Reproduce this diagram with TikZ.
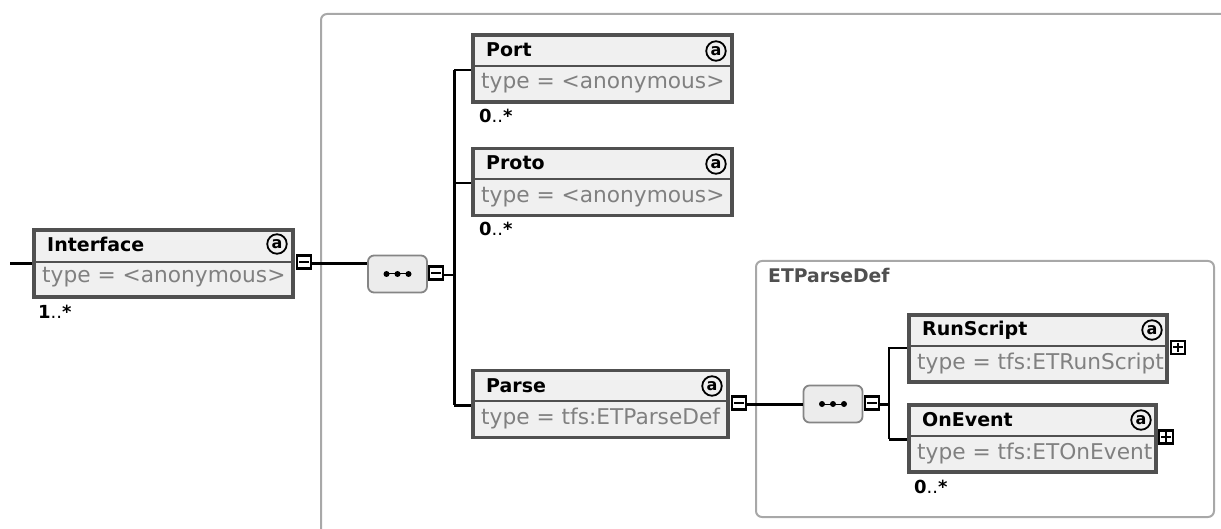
\documentclass[tikz,border=0pt]{standalone}
\usepackage{fontspec}
\setmainfont{DejaVu Sans}
\definecolor{boxline}{HTML}{505050}
\definecolor{boxfill}{HTML}{F0F0F0}
\definecolor{typegray}{HTML}{808080}
\definecolor{groupline}{HTML}{A8A8A8}
\definecolor{seqfill}{HTML}{ECECEC}
\definecolor{seqline}{HTML}{858585}

\begin{document}
\begin{tikzpicture}[x=1pt,y=-1pt,
  elem node/.style={rectangle,draw=boxline,fill=boxfill,line width=3.6pt,inner sep=0pt,minimum height=67pt},
  title node/.style={anchor=base west,inner sep=0pt,font=\fontsize{19}{21}\selectfont\bfseries},
  type node/.style={anchor=base west,inner sep=0pt,text=typegray,font=\fontsize{21.7}{24}\selectfont},
  icon node/.style={circle,draw=black,fill=boxfill,line width=1.8pt,minimum size=19.5pt,inner sep=0pt,font=\fontsize{16}{17}\selectfont\bfseries},
  count node/.style={anchor=base west,inner sep=0pt,font=\fontsize{18}{20}\selectfont},
  seq node/.style={rectangle,rounded corners=6pt,draw=seqline,fill=seqfill,line width=1.8pt,minimum width=59pt,minimum height=37pt,inner sep=0pt},
  fold node/.style={rectangle,draw=black,fill=white,line width=2.6pt,minimum width=14pt,minimum height=13pt,inner sep=0pt},
  divider/.style={draw=boxline,line width=1.8pt},
  group line/.style={draw=groupline,line width=2pt,rounded corners=6pt},
  thin link/.style={line width=2pt},
  wide link/.style={line width=3pt}]

  \useasboundingbox (0,0) rectangle (1221,529);

  \draw[group line] (321,529) -- (321,14) -- (1221,14);
  \node[rectangle,group line,minimum width=458pt,minimum height=256pt,inner sep=0pt] (groupbox) at (985,389) {};
  \node[anchor=base west,inner sep=0pt,text=boxline,font=\fontsize{18.8}{20}\selectfont\bfseries] (grouptitle) at (768,283) {ETParseDef};

  \node[elem node,minimum width=259pt] (interface) at (163.5,263.5) {};
  \node[elem node,minimum width=259pt] (port) at (602.5,68.5) {};
  \node[elem node,minimum width=259pt] (proto) at (602.5,182) {};
  \node[elem node,minimum width=255pt] (parse) at (600.5,404) {};
  \node[elem node,minimum width=258pt] (runscript) at (1038,348.5) {};
  \node[elem node,minimum width=247pt] (onevent) at (1032.5,438.5) {};

  \draw[divider] (interface.west |- 0,262) -- (interface.east |- 0,262);
  \draw[divider] (port.west |- 0,66) -- (port.east |- 0,66);
  \draw[divider] (proto.west |- 0,179) -- (proto.east |- 0,179);
  \draw[divider] (parse.west |- 0,401) -- (parse.east |- 0,401);
  \draw[divider] (runscript.west |- 0,346) -- (runscript.east |- 0,346);
  \draw[divider] (onevent.west |- 0,436) -- (onevent.east |- 0,436);

  \node[title node] (interfacename) at (47,252) {Interface};
  \node[title node] (portname) at (486,57) {Port};
  \node[title node] (protoname) at (486,170) {Proto};
  \node[title node] (parsename) at (486,392) {Parse};
  \node[title node] (runscriptname) at (922,336) {RunScript};
  \node[title node] (oneventname) at (922,426) {OnEvent};

  \node[type node] (interfacetype) at (42,283) {type = <anonymous>};
  \node[type node] (porttype) at (481,89) {type = <anonymous>};
  \node[type node] (prototype) at (481,203) {type = <anonymous>};
  \node[type node] (parsetype) at (481,424) {type = tfs:ETParseDef};
  \node[type node] (runscripttype) at (917,369) {type = tfs:ETRunScript};
  \node[type node] (oneventtype) at (917,459) {type = tfs:ETOnEvent};

  \node[icon node] (interfaceicon) at (277,244) {a};
  \node[icon node] (porticon) at (716,51) {a};
  \node[icon node] (protoicon) at (716,164) {a};
  \node[icon node] (parseicon) at (712,386) {a};
  \node[icon node] (runscripticon) at (1152,330) {a};
  \node[icon node] (oneventicon) at (1141,420) {a};

  \node[count node] (interfacecount) at (38,319) {\textbf{1}..\textbf{*}};
  \node[count node] (portcount) at (479,123) {\textbf{0}..\textbf{*}};
  \node[count node] (protocount) at (479,236) {\textbf{0}..\textbf{*}};
  \node[count node] (oneventcount) at (914,493) {\textbf{0}..\textbf{*}};

  \node[seq node] (seqa) at (397.5,274) {};
  \node[seq node] (seqb) at (833,404) {};
  \foreach \name in {seqa,seqb} {
    \draw[line width=1pt] ([xshift=-11pt]\name.center) -- ([xshift=11pt]\name.center);
    \foreach \dx in {-11,0,11}
      \fill ([xshift=\dx pt]\name.center) circle (3);
  }

  \node[fold node] (foldinterface) at (304,262) {};
  \node[fold node] (foldseqa) at (436,273) {};
  \node[fold node] (foldparse) at (739,403) {};
  \node[fold node] (foldseqb) at (872,403) {};
  \node[fold node] (foldrunscript) at (1178,347.5) {};
  \node[fold node] (foldonevent) at (1166,437) {};
  \foreach \name in {foldinterface,foldseqa,foldparse,foldseqb,foldrunscript,foldonevent}
    \draw[line width=2pt] ([xshift=3.5pt]\name.west) -- ([xshift=-3.5pt]\name.east);
  \foreach \name in {foldrunscript,foldonevent}
    \draw[line width=2pt] ([yshift=-3pt]\name.north) -- ([yshift=3pt]\name.south);

  \coordinate (start) at (10,264);
  \coordinate (bustop) at (454,70);
  \coordinate (busmid) at (454,183);
  \coordinate (busend) at (454,405);
  \coordinate (forktop) at (889,348);
  \coordinate (forkend) at (889,439);

  \draw[wide link] (start) -- (start -| interface.west);
  \draw[wide link] (foldinterface.east |- 0,264) -- (seqa.west |- 0,264);
  \draw[thin link] (foldseqa.east |- 0,275) -- (bustop |- 0,275);
  \draw[thin link] (bustop) -- (bustop -| port.west);
  \draw[wide link] (bustop) -- (busend);
  \draw[thin link] (busmid) -- (busmid -| proto.west);
  \draw[wide link] (busend) -- (busend -| parse.west);
  \draw[wide link] (foldparse.east |- 0,404) -- (seqb.west |- 0,404);
  \draw[wide link] (foldseqb.east |- 0,404) -- (forktop |- 0,404);
  \draw[thin link] (forktop -| runscript.west) -- (forktop) -- (forkend);
  \draw[wide link] (forkend) -- (forkend -| onevent.west);

\end{tikzpicture}
\end{document}
